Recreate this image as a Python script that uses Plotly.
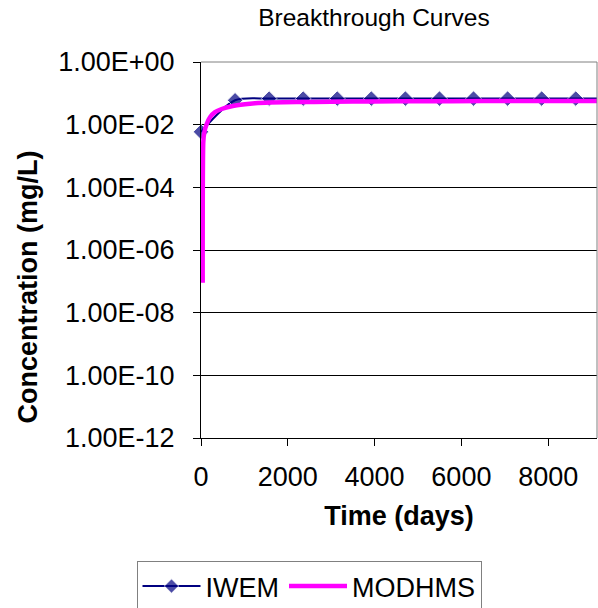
import plotly.graph_objects as go

# ---- data ----
iwem_days = [0, 785, 1570, 2355, 3140, 3925, 4710, 5495, 6280, 7065, 7850, 8635, 9420]
iwem_conc = [0.0059, 0.060, 0.068, 0.068, 0.068, 0.068, 0.068, 0.068, 0.068, 0.068, 0.068, 0.068, 0.068]

modhms_days = [39, 53, 76, 131, 207, 323, 477, 707, 1014, 1244, 1590, 2200, 3000, 4000, 5000, 6500, 8000, 9125]
modhms_conc = [9e-8, 0.0028, 0.0057, 0.0105, 0.0173, 0.025, 0.0316, 0.0387, 0.0447, 0.048, 0.0507,
               0.0525, 0.054, 0.0552, 0.056, 0.0565, 0.0568, 0.057]

y_exponents = [0, -2, -4, -6, -8, -10, -12]
y_tickvals = [10.0 ** e for e in y_exponents]
y_ticktext = ["1.00E%+03d" % e for e in y_exponents]
x_tickvals = [0, 2000, 4000, 6000, 8000]

FONT = "Liberation Sans, Arial, sans-serif"

fig = go.Figure()

fig.add_trace(go.Scatter(
    x=iwem_days, y=iwem_conc, name="IWEM",
    mode="lines+markers", line=dict(color="#000080", width=2, shape="spline", smoothing=0.8),
    marker=dict(symbol="diamond", size=[12] * (len(iwem_days) - 1) + [0], color="#000080"),
    cliponaxis=False,
))
fig.add_trace(go.Scatter(
    x=modhms_days, y=modhms_conc, name="MODHMS",
    mode="lines", line=dict(color="#FF00FF", width=4.5, shape="spline", smoothing=0.6),
))

fig.update_layout(
    width=598, height=608,
    margin=dict(l=201, r=1, t=62, b=170, autoexpand=False),
    paper_bgcolor="white", plot_bgcolor="white",
    font=dict(family=FONT, color="black", size=27),
    title=dict(text="Breakthrough Curves", x=374 / 598, xanchor="center",
               y=1 - 17 / 608, yanchor="middle", font=dict(size=24.5, family=FONT, color="black")),
    showlegend=True,
    legend=dict(orientation="h", x=(309 - 201) / 396, xanchor="center",
                y=(438 - 561) / 376, yanchor="top",
                bordercolor="#808080", borderwidth=1, font=dict(size=27, family=FONT),
                itemwidth=58, tracegroupgap=0),
)

fig.update_xaxes(
    range=[0, 9125], tickvals=x_tickvals, ticks="outside", ticklen=7, tickcolor="black",
    showline=True, linecolor="black", linewidth=1, showgrid=False, zeroline=False,
    tickfont=dict(size=27, family=FONT), ticklabelstandoff=8, automargin=False,
    title=dict(text="<b>Time (days)</b>", font=dict(size=27, family=FONT), standoff=14),
)
fig.update_yaxes(
    type="log", range=[-12, 0], tickvals=y_tickvals, ticktext=y_ticktext,
    ticks="outside", ticklen=7, tickcolor="black",
    showline=True, linecolor="black", linewidth=1, automargin=False,
    showgrid=True, gridcolor="black", gridwidth=1, zeroline=False,
    tickfont=dict(size=27, family=FONT), ticklabelstandoff=13,
)

# plot-area border (top & right)
fig.add_shape(type="line", xref="paper", yref="paper", x0=0, x1=1, y0=1, y1=1,
              line=dict(color="#808080", width=1))
fig.add_shape(type="line", xref="paper", yref="paper", x0=1, x1=1, y0=0, y1=1,
              line=dict(color="#808080", width=1))

# y-axis title placed like the original (offset downward)
fig.add_annotation(text="<b>Concentration (mg/L)</b>", textangle=-90,
                   xref="paper", yref="paper", x=(27 - 201) / 396, y=(438 - 287.5) / 376,
                   xanchor="center", yanchor="middle", showarrow=False,
                   font=dict(size=27, family=FONT, color="black"))

fig.write_html("out.html", config={"displayModeBar": False},
               post_script="document.body.style.margin='0';")
